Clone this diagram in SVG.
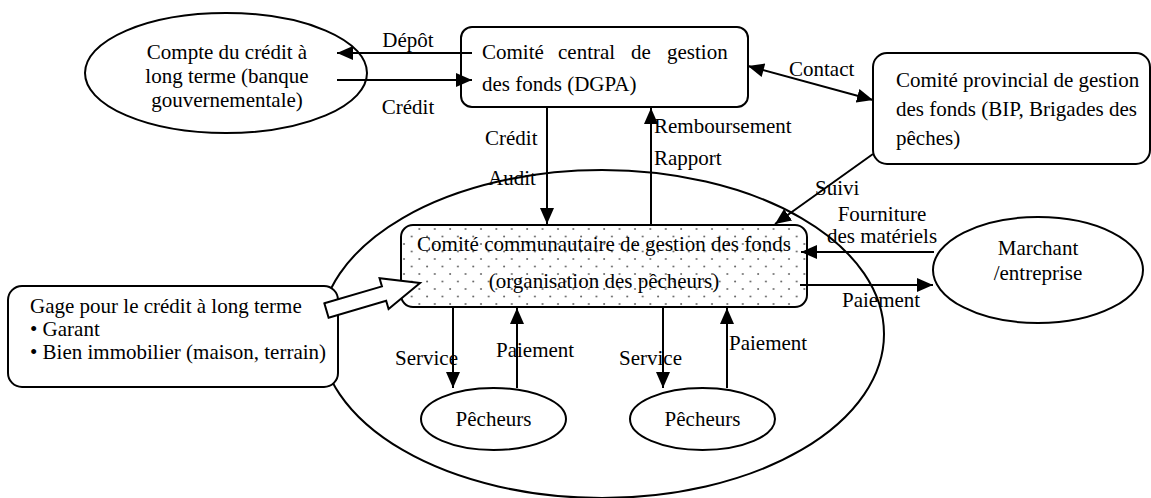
<svg xmlns="http://www.w3.org/2000/svg" width="1151" height="498" viewBox="0 0 1151 498">
<style>
text{font-family:"Liberation Serif","Times New Roman",serif;font-size:21px;fill:#000}
.c{text-anchor:middle}
.shape{fill:#fff;stroke:#000;stroke-width:2}
.open{fill:none;stroke:#000;stroke-width:2}
.ln{fill:none;stroke:#000;stroke-width:2}
.arr{marker-end:url(#ah)}
</style>
<defs>
<marker id="ah" markerUnits="userSpaceOnUse" markerWidth="18" markerHeight="14" refX="16" refY="7" orient="auto">
<path d="M0,0 L16,7 L0,14 z" fill="#000"/>
</marker>
<marker id="ahs" markerUnits="userSpaceOnUse" markerWidth="18" markerHeight="14" refX="0" refY="7" orient="auto">
<path d="M16,0 L0,7 L16,14 z" fill="#000"/>
</marker>
<pattern id="dots" patternUnits="userSpaceOnUse" x="401" y="225" width="15.4" height="15">
<rect width="15.4" height="15" fill="#fff"/>
<circle cx="3" cy="4" r="1" fill="#666"/>
<circle cx="10.7" cy="11.5" r="1" fill="#666"/>
</pattern>
</defs>

<g id="community-boundary">
<ellipse class="open" cx="602" cy="334" rx="282" ry="164"/>
</g>

<g id="long-term-account">
<ellipse class="shape" cx="226" cy="73" rx="141" ry="60"/>
<text class="c" x="227" y="59">Compte du crédit à</text>
<text class="c" x="227" y="83">long terme (banque</text>
<text class="c" x="227" y="107">gouvernementale)</text>
</g>

<g id="central-committee">
<rect class="shape" x="461" y="27" width="287" height="80" rx="11"/>
<text x="482" y="59">Comité</text>
<text x="558" y="59">central</text>
<text x="631" y="59">de</text>
<text x="667" y="59">gestion</text>
<text x="482" y="91">des fonds (DGPA)</text>
</g>

<g id="provincial-committee">
<rect class="shape" x="873" y="53" width="277" height="111" rx="14"/>
<text x="896" y="87">Comité provincial de gestion</text>
<text x="896" y="116">des fonds (BIP, Brigades des</text>
<text x="896" y="145">pêches)</text>
</g>

<g id="community-committee">
<rect x="401" y="225" width="406" height="82" rx="12" fill="url(#dots)" stroke="#000" stroke-width="2"/>
<text class="c" x="604" y="251">Comité communautaire de gestion des fonds</text>
<text class="c" x="604" y="288">(organisation des pêcheurs)</text>
</g>

<g id="merchant">
<ellipse class="shape" cx="1038" cy="270" rx="105" ry="53"/>
<text class="c" x="1038" y="255">Marchant</text>
<text class="c" x="1038" y="280">/entreprise</text>
</g>

<g id="fishers-1">
<ellipse class="shape" cx="493.5" cy="419" rx="72.5" ry="31"/>
<text class="c" x="493.5" y="426">Pêcheurs</text>
</g>

<g id="fishers-2">
<ellipse class="shape" cx="702.5" cy="419" rx="72.5" ry="31"/>
<text class="c" x="702.5" y="426">Pêcheurs</text>
</g>

<g id="collateral">
<rect class="shape" x="8" y="286" width="330" height="101" rx="14"/>
<text x="30" y="313">Gage pour le crédit à long terme</text>
<text x="30" y="336">• Garant</text>
<text x="30" y="359">• Bien immobilier (maison, terrain)</text>
</g>

<g id="connectors">
<line class="ln arr" x1="472" y1="53" x2="337" y2="53"/>
<text class="c" x="408" y="47">Dépôt</text>
<line class="ln arr" x1="337" y1="80" x2="472" y2="80"/>
<text class="c" x="408" y="114">Crédit</text>

<line class="ln" x1="748" y1="66" x2="873" y2="100" marker-start="url(#ahs)" marker-end="url(#ah)"/>
<text x="789" y="76">Contact</text>

<line class="ln arr" x1="547" y1="107" x2="547" y2="224"/>
<text x="485" y="145">Crédit</text>
<text x="488" y="185">Audit</text>

<line class="ln arr" x1="651" y1="225" x2="651" y2="108"/>
<text x="654" y="133">Remboursement</text>
<text x="654" y="165">Rapport</text>

<line class="ln arr" x1="873" y1="154" x2="775" y2="224"/>
<text x="815" y="195">Suivi</text>

<line class="ln arr" x1="934" y1="252" x2="801" y2="252"/>
<text class="c" x="882" y="221">Fourniture</text>
<text class="c" x="882" y="243">des matériels</text>

<line class="ln arr" x1="800" y1="285" x2="933" y2="285"/>
<text x="842" y="307">Paiement</text>

<line class="ln arr" x1="453" y1="307" x2="453" y2="388"/>
<text x="395" y="365">Service</text>
<line class="ln arr" x1="517" y1="388" x2="517" y2="308"/>
<text x="496" y="357">Paiement</text>
<line class="ln arr" x1="663" y1="307" x2="663" y2="388"/>
<text x="619" y="365">Service</text>
<line class="ln arr" x1="727" y1="388" x2="727" y2="308"/>
<text x="729" y="350">Paiement</text>

<polygon class="shape" transform="translate(326.5,310.5) rotate(-16.4)" points="0,-7.5 60,-7.5 60,-16 97.5,0 60,16 60,7.5 0,7.5"/>
</g>
</svg>
